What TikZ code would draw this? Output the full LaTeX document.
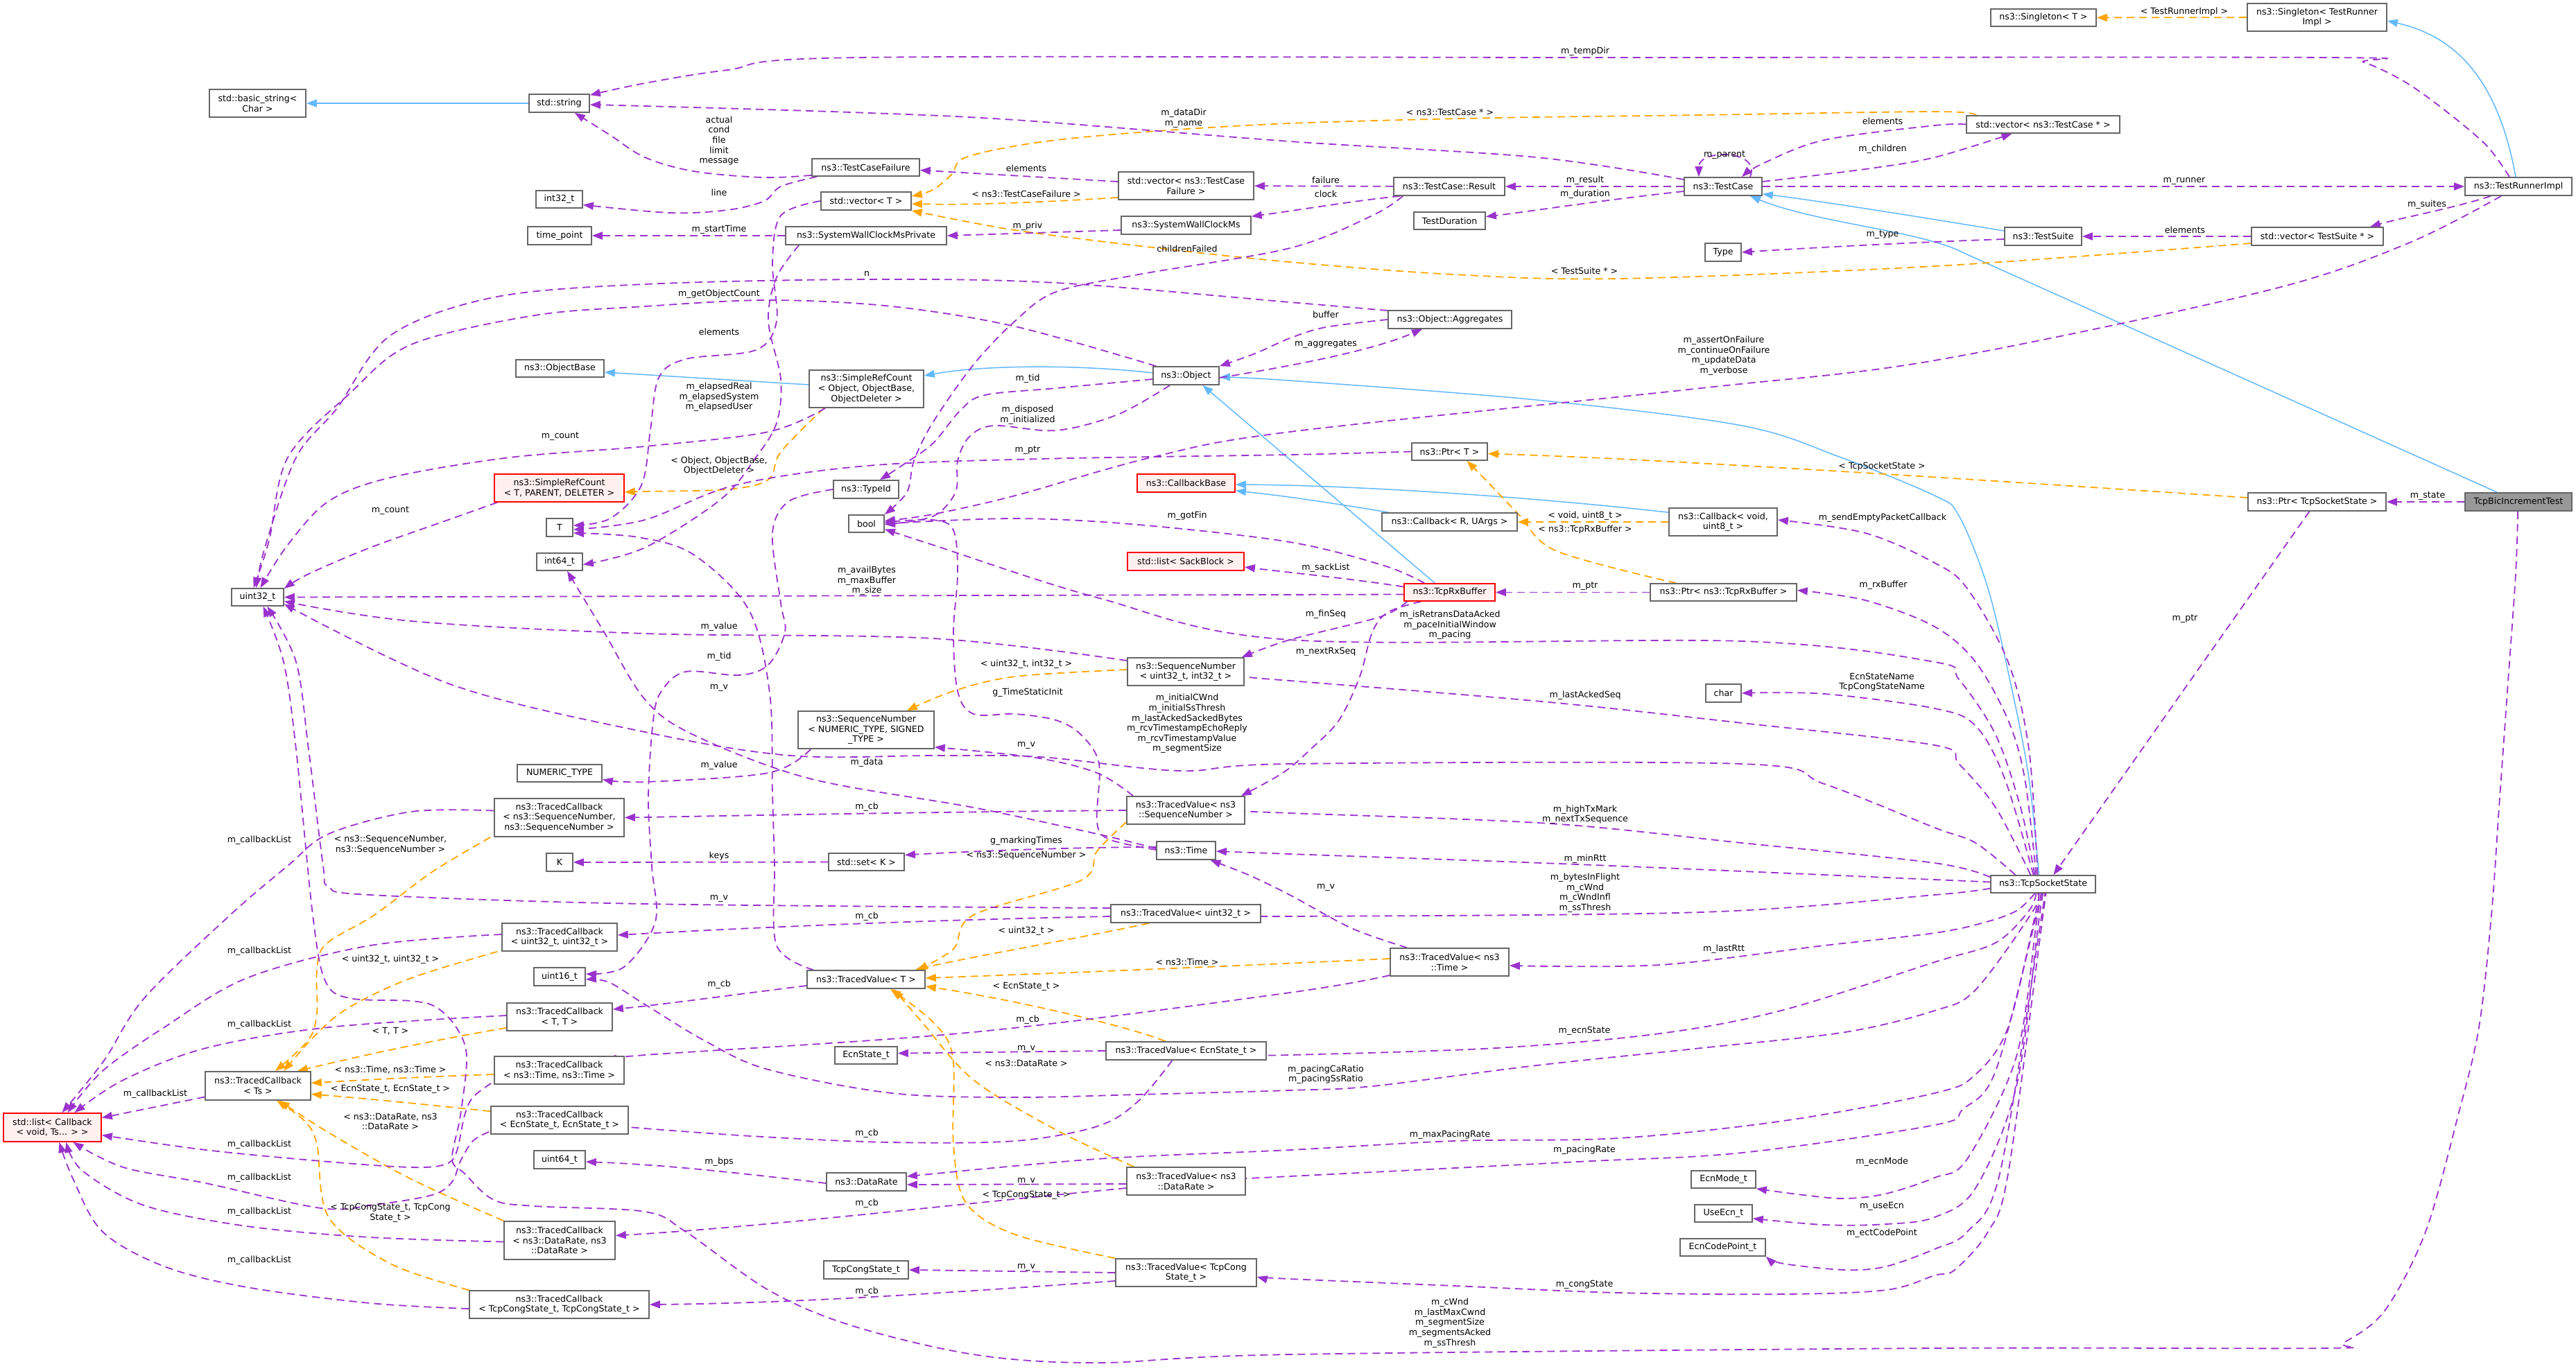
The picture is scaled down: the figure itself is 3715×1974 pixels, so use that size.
\documentclass[tikz,border=0pt]{standalone}
\usepackage{fontspec}
\setmainfont{DejaVu Sans}
\usetikzlibrary{arrows.meta}
\definecolor{purp}{HTML}{9A32CD}
\definecolor{orng}{HTML}{FFA500}
\definecolor{blu}{HTML}{63B8FF}
\definecolor{bordr}{HTML}{666666}
\definecolor{redfill}{HTML}{FFF0F0}
\definecolor{bicfill}{HTML}{999999}
\pgfdeclarelayer{bg}
\pgfsetlayers{bg,main}
\tikzset{
 nbox/.style={draw=bordr, line width=1.7pt, fill=white, inner sep=0pt, align=center, font=\fontsize{12.6}{14.6}\selectfont},
 redbox/.style={draw=red, fill=redfill},
 bicbox/.style={fill=bicfill},
 lbl/.style={inner sep=0pt, align=center, font=\fontsize{12.6}{14.6}\selectfont},
 ulink/.style={draw=purp, line width=1.8pt, dash pattern=on 11pt off 7pt, -{Triangle[length=15pt,width=11pt]}},
 tlink/.style={draw=orng, line width=1.8pt, dash pattern=on 11pt off 7pt, -{Triangle[length=15pt,width=11pt]}},
 ilink/.style={draw=blu, line width=1.5pt, -{Triangle[length=15pt,width=11pt]}},
}
\newcommand\nbx[7][]{\node[nbox,#1,minimum width={#4-#3},minimum height={#6-#5}] (#2) at ({(#3+#4)/2},{(#5+#6)/2}) {#7};}
\newcommand\smp[2]{\draw[#1] plot[smooth,tension=0.55] coordinates {#2};}
\begin{document}
\begin{tikzpicture}[x=1pt,y=-1pt]
\useasboundingbox (0,0) rectangle (3715,1974);
\begin{pgfonlayer}{bg}
\fill[white] (0,0) rectangle (3715,1974);
\end{pgfonlayer}
% ---------------- nodes
\nbx{basic}{302}{441}{129}{169}{std::basic\_string<\\Char >}
\nbx{string}{763}{850}{136}{162}{std::string}
\nbx{int32}{773}{840}{275}{300}{int32\_t}
\nbx{tpoint}{761}{853}{327}{353}{time\_point}
\nbx{objbase}{744}{871}{519}{544}{ns3::ObjectBase}
\nbx[redbox]{srcT}{713}{900}{684}{724}{ns3::SimpleRefCount\\< T, PARENT, DELETER >}
\nbx{T}{788}{826}{748}{774}{T}
\nbx{int64}{774}{840}{798}{823}{int64\_t}
\nbx{uint32}{334}{409}{849}{874}{uint32\_t}
\nbx{numtype}{746}{868}{1103}{1128}{NUMERIC\_TYPE}
\nbx{tcbseq}{713}{900}{1152}{1207}{ns3::TracedCallback\\< ns3::SequenceNumber,\\ns3::SequenceNumber >}
\nbx{K}{788}{826}{1231}{1257}{K}
\nbx{tcbu32}{724}{890}{1332}{1372}{ns3::TracedCallback\\< uint32\_t, uint32\_t >}
\nbx{uint16}{770}{844}{1396}{1422}{uint16\_t}
\nbx{tcbTT}{731}{883}{1447}{1487}{ns3::TracedCallback\\< T, T >}
\nbx{tcbTs}{296}{448}{1546}{1587}{ns3::TracedCallback\\< Ts >}
\nbx[redbox]{cblist}{5}{146}{1606}{1647}{std::list< Callback\\< void, Ts... > >}
\nbx{tcbtime}{713}{900}{1524}{1564}{ns3::TracedCallback\\< ns3::Time, ns3::Time >}
\nbx{tcbecn}{708}{906}{1596}{1636}{ns3::TracedCallback\\< EcnState\_t, EcnState\_t >}
\nbx{uint64}{770}{844}{1660}{1686}{uint64\_t}
\nbx{tcbdr}{727}{887}{1762}{1817}{ns3::TracedCallback\\< ns3::DataRate, ns3\\::DataRate >}
\nbx{tcbcong}{677}{936}{1862}{1902}{ns3::TracedCallback\\< TcpCongState\_t, TcpCongState\_t >}
\nbx{tcf}{1171}{1326}{229}{254}{ns3::TestCaseFailure}
\nbx{vecT}{1184}{1314}{277}{303}{std::vector< T >}
\nbx{swcmp}{1133}{1365}{327}{353}{ns3::SystemWallClockMsPrivate}
\nbx{src}{1167}{1332}{534}{588}{ns3::SimpleRefCount\\< Object, ObjectBase,\\ObjectDeleter >}
\nbx{typeid}{1202}{1296}{693}{719}{ns3::TypeId}
\nbx{bool}{1224}{1275}{743}{768}{bool}
\nbx{seqNS}{1151}{1347}{1026}{1080}{ns3::SequenceNumber\\< NUMERIC\_TYPE, SIGNED\\\_TYPE >}
\nbx{setK}{1195}{1304}{1231}{1256}{std::set< K >}
\nbx{tvT}{1164}{1334}{1400}{1426}{ns3::TracedValue< T >}
\nbx{ecnstate}{1204}{1294}{1510}{1535}{EcnState\_t}
\nbx{datarate}{1192}{1307}{1692}{1718}{ns3::DataRate}
\nbx{tcpcong}{1188}{1310}{1819}{1845}{TcpCongState\_t}
\nbx{vectcf}{1613}{1808}{248}{288}{std::vector< ns3::TestCase\\Failure >}
\nbx{swcm}{1617}{1804}{312}{338}{ns3::SystemWallClockMs}
\nbx{object}{1663}{1758}{529}{555}{ns3::Object}
\nbx[redbox]{cbbase}{1640}{1781}{684}{710}{ns3::CallbackBase}
\nbx[redbox]{sack}{1626}{1794}{797}{823}{std::list< SackBlock >}
\nbx{seq32}{1626}{1794}{949}{989}{ns3::SequenceNumber\\< uint32\_t, int32\_t >}
\nbx{tvseq}{1625}{1795}{1149}{1189}{ns3::TracedValue< ns3\\::SequenceNumber >}
\nbx{time}{1668}{1753}{1214}{1240}{ns3::Time}
\nbx{tvu32}{1602}{1818}{1305}{1331}{ns3::TracedValue< uint32\_t >}
\nbx{tvecn}{1595}{1826}{1503}{1529}{ns3::TracedValue< EcnState\_t >}
\nbx{tvdr}{1625}{1796}{1684}{1724}{ns3::TracedValue< ns3\\::DataRate >}
\nbx{tvcong}{1609}{1812}{1816}{1856}{ns3::TracedValue< TcpCong\\State\_t >}
\nbx{result}{2010}{2170}{256}{282}{ns3::TestCase::Result}
\nbx{duration}{2039}{2142}{306}{331}{TestDuration}
\nbx{aggr}{2002}{2180}{448}{474}{ns3::Object::Aggregates}
\nbx{ptrT}{2036}{2145}{639}{664}{ns3::Ptr< T >}
\nbx{cbR}{1993}{2188}{740}{766}{ns3::Callback< R, UArgs >}
\nbx[redbox]{rxbuf}{2025}{2156}{842}{867}{ns3::TcpRxBuffer}
\nbx{tvtime}{2005}{2176}{1368}{1408}{ns3::TracedValue< ns3\\::Time >}
\nbx{testcase}{2429}{2541}{256}{282}{ns3::TestCase}
\nbx{type}{2459}{2511}{351}{377}{Type}
\nbx{cbvoid}{2407}{2563}{733}{773}{ns3::Callback< void,\\uint8\_t >}
\nbx{ptrrx}{2380}{2591}{842}{867}{ns3::Ptr< ns3::TcpRxBuffer >}
\nbx{char}{2460}{2511}{987}{1013}{char}
\nbx{ecnmode}{2439}{2532}{1689}{1714}{EcnMode\_t}
\nbx{useecn}{2444}{2527}{1738}{1763}{UseEcn\_t}
\nbx{ecncp}{2423}{2546}{1787}{1812}{EcnCodePoint\_t}
\nbx{singT}{2871}{3023}{13}{38}{ns3::Singleton< T >}
\nbx{vectc}{2836}{3057}{167}{192}{std::vector< ns3::TestCase * >}
\nbx{suite}{2891}{3002}{328}{354}{ns3::TestSuite}
\nbx{sock}{2871}{3022}{1263}{1288}{ns3::TcpSocketState}
\nbx{singTR}{3241}{3442}{5}{45}{ns3::Singleton< TestRunner\\Impl >}
\nbx{vects}{3247}{3437}{328}{354}{std::vector< TestSuite * >}
\nbx{ptrsock}{3242}{3441}{711}{737}{ns3::Ptr< TcpSocketState >}
\nbx{runner}{3555}{3709}{256}{282}{ns3::TestRunnerImpl}
\nbx[bicbox]{bic}{3555}{3709}{711}{737}{TcpBicIncrementTest}
% ---------------- edges
\begin{pgfonlayer}{bg}
% inheritance
\draw[ilink] (string) -- (basic);
\draw[ilink] ([yshift=6pt]src.west) -- ([yshift=-5.5pt]objbase.east);
\draw[ilink] ([yshift=4pt]object.west) .. controls (1560,526) and (1420,526) .. ([yshift=19pt]src.east);
\draw[ilink] ([xshift=45pt]rxbuf.north west) -- ([xshift=24pt]object.south);
\smp{ilink}{([xshift=-6pt]sock.north) (2926,1123) (2902,997) (2867,849) (2825,744) (2790,715) (2655,660) (2512,614) (2216,577) (1860,549) ([yshift=-2pt]object.east)}
\draw[ilink] ([xshift=10pt]cbR.north west) .. controls (1900,722) and (1840,714) .. ([yshift=-11pt]cbbase.east);
\draw[ilink] ([yshift=-7pt]cbvoid.north west) .. controls (2200,716) and (1950,700) .. ([yshift=-2pt]cbbase.east);
\draw[ilink] ([yshift=8pt]suite.west) .. controls (2780,315) and (2640,292) .. ([yshift=3pt]testcase.south east);
\draw[ilink] ([xshift=-31pt]bic.north) -- (2830,364) .. controls (2770,333) and (2620,322) .. ([xshift=39pt]testcase.south);
\draw[ilink] ([xshift=-4pt]runner.north) .. controls (3600,100) and (3530,50) .. ([yshift=-5pt]singTR.east);
% templates
\draw[tlink] (singTR) -- (singT);
\draw[tlink] ([yshift=-17pt]vectcf.west) .. controls (1500,292) and (1400,296) .. ([yshift=-4pt]vecT.east);
\smp{tlink}{([xshift=15pt]vectc.north west) (2790,161) (2453,166) (2157,170) (1860,178) (1642,191) (1493,206) (1393,227) (1372,252) (1345,274) ([yshift=7pt]vecT.east)}
\smp{tlink}{([yshift=-10pt]vects.west) (2790,384) (2334,402) (2097,396) (1860,378) (1671,358) (1464,332) (vecT.south east)}
\smp{tlink}{([xshift=22pt]src.south west) (1126,652) (1108,692) (1049,706) (930,709) ([yshift=-6pt]srcT.east)}
\draw[tlink] (cbvoid) -- (cbR);
\smp{tlink}{([xshift=38pt]ptrrx.north west) (2245,795) (2192,744) (2150,700) ([xshift=25pt]ptrT.south)}
\draw[tlink] ([yshift=6pt]ptrsock.west) .. controls (2900,695) and (2400,662) .. ([yshift=-3pt]ptrT.east);
\smp{tlink}{([yshift=3pt]seq32.west) (1464,976) (1375,997) ([xshift=-40pt]seqNS.north east)}
\smp{tlink}{([yshift=-17pt]tvseq.west) (1582,1228) (1559,1270) (1404,1320) (1375,1369) ([xshift=-12pt]tvT.north east)}
\draw[tlink] ([xshift=-53pt]tvu32.south) .. controls (1550,1355) and (1400,1380) .. ([xshift=-15pt]tvT.north east);
\draw[tlink] ([yshift=5pt]tvtime.west) .. controls (1800,1393) and (1500,1405) .. ([yshift=2pt]tvT.east);
\draw[tlink] ([xshift=-30pt]tvecn.north) .. controls (1620,1478) and (1450,1440) .. ([yshift=-10pt]tvT.east);
\smp{tlink}{([xshift=11pt]tvdr.north west) (1523,1630) (1404,1558) (1330,1475) ([xshift=40pt]tvT.south)}
\smp{tlink}{(tvcong.north west) (1464,1781) (1393,1735) (1375,1651) (1374,1524) (1345,1474) ([xshift=35pt]tvT.south)}
\smp{tlink}{([xshift=-5pt]tcbseq.south west) (623,1258) (540,1320) (470,1362) (457,1400) (457,1461) (445,1500) ([xshift=25pt]tcbTs.north)}
\smp{tlink}{([xshift=-6pt]tcbu32.south west) (593,1411) (504,1453) (457,1491) ([xshift=37pt]tcbTs.north)}
\draw[tlink] ([yshift=5pt]tcbTT.south west) .. controls (600,1505) and (500,1528) .. ([xshift=-20pt]tcbTs.north east);
\draw[tlink] ([yshift=-6pt]tcbtime.west) .. controls (620,1553) and (520,1558) .. ([yshift=4pt]tcbTs.east);
\draw[tlink] ([yshift=-8pt]tcbecn.north west) .. controls (600,1592) and (520,1584) .. ([yshift=-12pt]tcbTs.east);
\smp{tlink}{(tcbdr.north west) (593,1701) (474,1634) ([xshift=31pt]tcbTs.south)}
\smp{tlink}{(tcbcong.north west) (563,1823) (474,1756) (457,1651) (439,1617) ([xshift=27pt]tcbTs.south)}
% usage
\smp{ulink}{([xshift=-13pt]runner.north) (3586,210) (3527,160) (3468,118) (3409,90) (3356,83) (2300,83) (1238,83) (1049,101) (930,120) ([yshift=-2pt]string.north east)}
\smp{ulink}{([yshift=10pt]testcase.west) (2216,227) (1860,204) (1464,173) (1227,162) (930,153) ([yshift=-2pt]string.east)}
\smp{ulink}{([yshift=2pt]tcf.south west) (1100,256) (1000,247) (930,227) (880,195) ([xshift=-22pt]string.south east)}
\smp{ulink}{([xshift=8pt]tcf.south west) (1126,269) (1102,290) (1049,303) (966,307) ([yshift=-8pt]int32.east)}
\draw[ulink] (swcmp) -- (tpoint);
\draw[ulink] ([yshift=6pt]vectcf.west) -- ([yshift=-4pt]tcf.east);
\draw[ulink] (result) -- (vectcf);
\draw[ulink] ([xshift=10pt]result.south west) .. controls (1950,290) and (1880,302) .. ([yshift=-1pt]swcm.north east);
\draw[ulink] ([yshift=-7pt]swcm.west) -- (swcmp.east);
\smp{ulink}{([xshift=14pt]result.south west) (1979,311) (1860,358) (1642,396) (1523,421) (1464,463) (1404,526) (1345,610) (1318,665) (1308,710) (bool.north east)}
\smp{ulink}{([yshift=-5pt]object.west) (1523,560) (1420,570) (1385,592) (1345,640) (1300,672) ([xshift=20pt]typeid.north)}
\smp{ulink}{([xshift=25pt]object.south west) (1612,598) (1523,621) (1434,614) (1398,630) (1381,665) (1378,710) (1345,745) ([yshift=-1pt]bool.east)}
\smp{ulink}{([xshift=-25pt]runner.south) (3468,353) (3262,421) (2790,520) (2453,560) (1860,623) (1660,660) (1464,715) (1345,742) ([yshift=4pt]bool.east)}
\smp{ulink}{([xshift=30pt]rxbuf.north west) (1996,816) (1860,782) (1642,757) (1464,748) (bool.east)}
\smp{ulink}{([xshift=-12pt]sock.north) (2914,1165) (2878,1060) (2825,980) (2790,955) (2512,925) (1860,923) (1582,862) (1345,786) ([yshift=-8pt]bool.east)}
\smp{ulink}{([xshift=-8pt]sock.north) (2926,1081) (2896,955) (2837,849) (2790,812) (2690,769) ([yshift=3pt]cbvoid.east)}
\smp{ulink}{([xshift=-10pt]sock.north) (2920,1123) (2896,1039) (2849,955) (2790,904) (2690,866) ([yshift=3pt]ptrrx.east)}
\smp{ulink}{([xshift=-14pt]sock.north) (2891,1123) (2849,1047) (2790,1022) (2631,1001) (char.east)}
\smp{ulink}{([xshift=-18pt]sock.north) (2878,1165) (2825,1102) (2790,1075) (2512,1043) (2234,1013) (1860,982) ([yshift=-9pt]seq32.east)}
\smp{ulink}{([xshift=-40pt]sock.north) (2849,1216) (2790,1194) (2631,1131) (2512,1102) (1860,1102) (1701,1112) (1500,1092) (1350,1090) (1140,1090) (930,1056) (652,988) ([yshift=-10pt]uint32.east)}
\smp{ulink}{([yshift=10pt]sock.west) (2790,1245) (2512,1216) (2234,1188) (1860,1173) ([yshift=-2pt]tvseq.east)}
\smp{ulink}{([yshift=3pt]sock.west) (2790,1269) (2275,1247) (1860,1232) ([yshift=-1pt]time.east)}
\smp{ulink}{([yshift=-6pt]sock.west) (2790,1291) (2453,1316) (1860,1322) ([yshift=-2pt]tvu32.east)}
\smp{ulink}{([xshift=-12pt]sock.south) (2908,1314) (2861,1331) (2790,1346) (2631,1364) (2394,1392) ([yshift=-5pt]tvtime.east)}
\smp{ulink}{([xshift=-10pt]sock.south) (2926,1314) (2878,1360) (2790,1388) (2572,1457) (2394,1491) (2157,1512) (1860,1522) ([yshift=-5pt]tvecn.east)}
\smp{ulink}{([xshift=-8pt]sock.south) (2932,1314) (2849,1428) (2790,1458) (2661,1489) (2453,1512) (2216,1537) (1979,1567) (1860,1573) (1642,1579) (1464,1583) (1286,1577) (1108,1543) (1019,1503) (930,1449) (878,1417) ([yshift=-4pt]uint16.east)}
\smp{ulink}{([xshift=-6pt]sock.south) (2935,1320) (2896,1482) (2849,1550) (2790,1577) (2572,1617) (2334,1642) (2097,1646) (1860,1659) (1582,1672) ([yshift=-6pt]datarate.north east)}
\smp{ulink}{([xshift=-4pt]sock.south) (2937,1320) (2878,1545) (2831,1600) (2790,1623) (2512,1663) (2275,1676) (1860,1697) ([yshift=4pt]tvdr.east)}
\smp{ulink}{([xshift=-2pt]sock.south) (2937,1330) (2908,1524) (2837,1672) (2790,1699) (2720,1722) (2661,1729) (2601,1724) (ecnmode.south east)}
\smp{ulink}{(sock.south) (2940,1330) (2908,1567) (2849,1714) (2790,1756) (2720,1766) (2631,1767) ([yshift=6pt]useecn.south east)}
\smp{ulink}{([xshift=2pt]sock.south) (2943,1330) (2884,1693) (2837,1777) (2790,1802) (2720,1827) (2661,1832) (2572,1823) (ecncp.south east)}
\smp{ulink}{([xshift=4pt]sock.south) (2945,1330) (2896,1693) (2867,1777) (2819,1832) (2790,1840) (2720,1861) (2572,1867) (2334,1865) (2097,1855) (1860,1845) ([yshift=-6pt]tvcong.east)}
\smp{ulink}{([xshift=-1pt]bic.south) (3628,828) (3616,997) (3604,1165) (3593,1320) (3575,1482) (3545,1609) (3498,1777) (3439,1891) (3380,1937) (3350,1945) (2790,1945) (1860,1954) (1582,1966) (1404,1954) (1227,1912) (1108,1861) (989,1777) (930,1748) (771,1740) (712,1731) (670,1693) (652,1672) (664,1609) (673,1524) (658,1482) (629,1453) (593,1444) (504,1440) (469,1415) (451,1320) (427,1081) (409,955) ([xshift=8pt]uint32.south)}
\smp{ulink}{([yshift=8pt]tvu32.west) (930,1304) (534,1291) (474,1279) (466,1249) (445,1081) (427,955) ([xshift=14pt]uint32.south)}
\smp{ulink}{([xshift=5pt]object.north west) (1464,471) (1286,442) (1108,433) (930,442) (771,455) (593,497) (504,568) (415,660) (388,780) ([xshift=-6pt]uint32.north)}
\smp{ulink}{([yshift=13pt]aggr.west) (1860,436) (1523,408) (1256,403) (930,410) (712,429) (563,484) (486,589) (427,660) (382,790) ([xshift=-2pt]uint32.north)}
\smp{ulink}{([xshift=24pt]src.south west) (1108,623) (930,644) (735,660) (563,689) (474,723) (415,786) ([xshift=4pt]uint32.north)}
\smp{ulink}{([xshift=5pt]srcT.south west) (652,748) (534,790) (445,828) ([yshift=-1pt]uint32.north east)}
\draw[ulink] ([yshift=-3pt]rxbuf.west) -- (uint32.east);
\smp{ulink}{([yshift=16pt]seq32.west) (1345,921) (930,914) (593,896) ([yshift=-6pt]uint32.east)}
\smp{ulink}{(vecT.west) (1126,311) (1114,379) (1120,463) (1090,505) (989,518) (950,545) (938,620) (925,700) (880,748) ([yshift=3pt]T.east)}
\smp{ulink}{([xshift=20pt]swcmp.south west) (1120,400) (1108,463) (1126,547) (1120,610) (1090,660) (1040,720) (930,790) ([yshift=-4pt]int64.east)}
\smp{ulink}{(ptrT.west) (1860,656) (1500,662) (1250,672) (1060,700) (930,750) ([yshift=-3pt]T.east)}
\smp{ulink}{([xshift=10pt]tvT.north west) (1120,1364) (1117,1249) (1114,1144) (1110,1000) (1080,880) (1000,800) (920,775) ([yshift=-8pt]T.east)}
\smp{ulink}{(typeid.west) (1138,723) (1114,769) (1126,870) (1132,912) (1108,959) (1066,974) (989,969) (954,997) (942,1039) (935,1150) (940,1250) (945,1330) (900,1395) ([yshift=4pt]uint16.east)}
\smp{ulink}{([yshift=3pt]time.west) (1582,1203) (1404,1165) (1167,1123) (1000,1060) (930,1009) (870,910) ([xshift=11pt]int64.south)}
\smp{ulink}{([yshift=1pt]time.west) (1600,1211) (1582,1186) (1585,1102) (1559,1060) (1523,1039) (1464,1030) (1404,1030) (1381,997) (1375,912) (1381,828) (1375,765) (1345,750) ([yshift=2pt]bool.east)}
\draw[ulink] ([yshift=5pt]time.west) .. controls (1550,1222) and (1400,1228) .. ([yshift=10pt]setK.east);
\draw[ulink] (setK) -- (K);
\smp{ulink}{([xshift=10pt]tvseq.north west) (1582,1115) (1493,1093) ([yshift=3pt]seqNS.south east)}
\draw[ulink] (tvseq.west) .. controls (1300,1172) and (1100,1176) .. (tcbseq.east);
\smp{ulink}{([xshift=19pt]seqNS.south west) (1108,1115) (930,1128) ([yshift=-9pt]numtype.east)}
\draw[ulink] ([yshift=8pt]rxbuf.west) .. controls (1950,835) and (1850,825) .. ([yshift=-8pt]sack.east);
\smp{ulink}{([xshift=5pt]rxbuf.south west) (1990,890) (1860,923) ([xshift=-4pt]seq32.north east)}
\smp{ulink}{([xshift=25pt]rxbuf.south west) (2002,883) (1979,912) (1961,976) (1931,1039) (1890,1081) (1850,1115) ([xshift=-6pt]tvseq.north east)}
\draw[ulink] (ptrrx) -- (rxbuf);
\smp{ulink}{(aggr.west) (1912,472) (1860,488) (1810,510) (object.north east)}
\draw[ulink] ([yshift=-3pt]object.east) .. controls (1880,525) and (1980,505) .. ([xshift=-40pt]aggr.south);
\draw[ulink] ([xshift=39pt]testcase.north) .. controls (2540,215) and (2450,215) .. ([xshift=-35pt]testcase.north);
\smp{ulink}{(vectc.west) (2790,181) (2631,202) (2542,236) ([xshift=27pt]testcase.north)}
\smp{ulink}{([yshift=7pt]testcase.east) (2690,244) (2790,227) ([xshift=-45pt]vectc.south)}
\draw[ulink] (testcase) -- (runner);
\draw[ulink] (testcase) -- (result);
\draw[ulink] ([yshift=-7pt]testcase.west) .. controls (2300,290) and (2200,306) .. ([yshift=6pt]duration.east);
\draw[ulink] ([yshift=-4pt]suite.west) .. controls (2750,350) and (2600,358) .. (type.east);
\draw[ulink] ([xshift=-40pt]runner.south) .. controls (3540,300) and (3460,315) .. ([xshift=76pt]vects.north);
\draw[ulink] (vects) -- (suite);
\draw[ulink] (bic) -- (ptrsock);
\draw[ulink] ([xshift=-11pt]ptrsock.south) -- ([xshift=15pt]sock.north);
\draw[ulink] ([yshift=-4pt]tvu32.west) .. controls (1300,1328) and (1050,1340) .. ([yshift=3pt]tcbu32.east);
\draw[ulink] ([yshift=-9pt]tvT.west) .. controls (1050,1436) and (950,1450) .. ([yshift=11pt]tcbTT.east);
\smp{ulink}{([yshift=-19pt]tvtime.west) (1860,1432) (1404,1489) (930,1522) ([yshift=17pt]tcbtime.east)}
\smp{ulink}{([xshift=25pt]tvtime.north west) (1949,1339) (1860,1291) (1800,1262) ([xshift=35pt]time.south)}
\draw[ulink] (tvecn.west) -- ([yshift=3pt]ecnstate.east);
\smp{ulink}{([xshift=-20pt]tvecn.south) (1640,1590) (1582,1625) (1464,1646) (1286,1648) (1100,1640) (930,1628) ([yshift=-9pt]tcbecn.east)}
\draw[ulink] ([yshift=-4pt]tvdr.west) -- ([yshift=-4pt]datarate.east);
\draw[ulink] ([yshift=-10pt]tvdr.west) .. controls (1350,1740) and (1100,1770) .. ([yshift=7pt]tcbdr.east);
\draw[ulink] (tvcong.west) -- (tcpcong.east);
\draw[ulink] ([yshift=-12pt]tvcong.west) .. controls (1350,1866) and (1150,1880) .. (tcbcong.east);
\draw[ulink] ([yshift=-2pt]datarate.west) .. controls (1050,1690) and (950,1680) .. ([yshift=-3pt]uint64.east);
\draw[ulink] ([yshift=-16pt]tcbTs.west) -- ([yshift=14pt]cblist.east);
\smp{ulink}{([yshift=10pt]tcbseq.west) (593,1171) (474,1203) (415,1249) (332,1320) (208,1440) (150,1530) ([xshift=14pt]cblist.north)}
\smp{ulink}{([yshift=4pt]tcbu32.west) (534,1364) (356,1411) (237,1482) (148,1545) ([xshift=22pt]cblist.north)}
\smp{ulink}{([yshift=2pt]tcbTT.west) (474,1482) (297,1512) (178,1558) ([xshift=32pt]cblist.north)}
\smp{ulink}{([xshift=-4pt,yshift=2pt]tcbtime.south west) (682,1583) (670,1609) (658,1663) (641,1680) (593,1684) (474,1676) (297,1659) ([yshift=-11pt]cblist.east)}
\smp{ulink}{([xshift=-2pt,yshift=4pt]tcbecn.south west) (682,1646) (664,1675) (652,1705) (623,1724) (540,1738) (463,1743) (297,1707) (178,1684) ([xshift=30pt]cblist.south)}
\smp{ulink}{([yshift=-2pt]tcbdr.west) (534,1785) (356,1769) (208,1739) (119,1689) ([xshift=20pt]cblist.south)}
\smp{ulink}{([yshift=-6pt]tcbcong.west) (534,1880) (356,1857) (237,1827) (148,1777) (105,1700) ([xshift=10pt]cblist.south)}
\end{pgfonlayer}
% ---------------- labels
\node[lbl] (l01) at (2286,74) {m\_tempDir};
\node[lbl] (l02) at (3150,17) {< TestRunnerImpl >};
\node[lbl] (l03) at (1037,203) {actual\\cond\\file\\limit\\message};
\node[lbl] (l04) at (1707,170.5) {m\_dataDir\\m\_name};
\node[lbl] (l05) at (2091,162) {< ns3::TestCase * >};
\node[lbl] (l06) at (2715,175) {elements};
\node[lbl] (l07) at (2715,215) {m\_children};
\node[lbl] (l08) at (2487,224) {m\_parent};
\node[lbl] (l09) at (3150,261) {m\_runner};
\node[lbl] (l10) at (2286,260) {m\_result};
\node[lbl] (l11) at (2286,280) {m\_duration};
\node[lbl] (l12) at (1912,260) {failure};
\node[lbl] (l13) at (1912,280) {clock};
\node[lbl] (l14) at (1480,243) {elements};
\node[lbl] (l15) at (1037,278) {line};
\node[lbl] (l16) at (1480,280) {< ns3::TestCaseFailure >};
\node[lbl] (l17) at (1037,331) {m\_startTime};
\node[lbl] (l18) at (1482,326) {m\_priv};
\node[lbl] (l19) at (3500,295) {m\_suites};
\node[lbl] (l20) at (3151,332) {elements};
\node[lbl] (l21) at (2715,339) {m\_type};
\node[lbl] (l22) at (1712,359) {childrenFailed};
\node[lbl] (l23) at (2285,391) {< TestSuite * >};
\node[lbl] (l24) at (1250,395) {n};
\node[lbl] (l25) at (1037,424) {m\_getObjectCount};
\node[lbl] (l26) at (1912,454) {buffer};
\node[lbl] (l27) at (1037,479) {elements};
\node[lbl] (l28) at (1912,497) {m\_aggregates};
\node[lbl] (l29) at (2486,513) {m\_assertOnFailure\\m\_continueOnFailure\\m\_updateData\\m\_verbose};
\node[lbl] (l30) at (1482,546) {m\_tid};
\node[lbl] (l31) at (1037,573) {m\_elapsedReal\\m\_elapsedSystem\\m\_elapsedUser};
\node[lbl] (l32) at (1482,598.5) {m\_disposed\\m\_initialized};
\node[lbl] (l33) at (808,630) {m\_count};
\node[lbl] (l34) at (1482,650) {m\_ptr};
\node[lbl] (l35) at (1037,672) {< Object, ObjectBase,\\ObjectDeleter >};
\node[lbl] (l36) at (2714,673) {< TcpSocketState >};
\node[lbl] (l37) at (3501,716) {m\_state};
\node[lbl] (l38) at (563,737) {m\_count};
\node[lbl] (l39) at (1712,744) {m\_gotFin};
\node[lbl] (l40) at (2286,744) {< void, uint8\_t >};
\node[lbl] (l41) at (2715,747) {m\_sendEmptyPacketCallback};
\node[lbl] (l42) at (2286,764) {< ns3::TcpRxBuffer >};
\node[lbl] (l43) at (1912,819) {m\_sackList};
\node[lbl] (l44) at (1250,838) {m\_availBytes\\m\_maxBuffer\\m\_size};
\node[lbl] (l45) at (2716,844) {m\_rxBuffer};
\node[lbl] (l46) at (2286,846) {m\_ptr};
\node[lbl] (l47) at (2091,902) {m\_isRetransDataAcked\\m\_paceInitialWindow\\m\_pacing};
\node[lbl] (l48) at (1912,886) {m\_finSeq};
\node[lbl] (l49) at (3151,893) {m\_ptr};
\node[lbl] (l50) at (1037,904) {m\_value};
\node[lbl] (l51) at (1912,940) {m\_nextRxSeq};
\node[lbl] (l52) at (1037,947) {m\_tid};
\node[lbl] (l53) at (1480,958) {< uint32\_t, int32\_t >};
\node[lbl] (l54) at (2714,984) {EcnStateName\\TcpCongStateName};
\node[lbl] (l55) at (1037,992) {m\_v};
\node[lbl] (l56) at (1482,999) {g\_TimeStaticInit};
\node[lbl] (l57) at (2286,1003) {m\_lastAckedSeq};
\node[lbl] (l58) at (1712,1044) {m\_initialCWnd\\m\_initialSsThresh\\m\_lastAckedSackedBytes\\m\_rcvTimestampEchoReply\\m\_rcvTimestampValue\\m\_segmentSize};
\node[lbl] (l59) at (1480,1075) {m\_v};
\node[lbl] (l60) at (1250,1100) {m\_data};
\node[lbl] (l61) at (1037,1104) {m\_value};
\node[lbl] (l62) at (1250,1164) {m\_cb};
\node[lbl] (l63) at (2286,1175) {m\_highTxMark\\m\_nextTxSequence};
\node[lbl] (l64) at (374,1212) {m\_callbackList};
\node[lbl] (l65) at (563,1218.5) {< ns3::SequenceNumber,\\ns3::SequenceNumber >};
\node[lbl] (l66) at (1480,1213) {g\_markingTimes};
\node[lbl] (l67) at (1480,1234) {< ns3::SequenceNumber >};
\node[lbl] (l68) at (1037,1235) {keys};
\node[lbl] (l69) at (2286,1239) {m\_minRtt};
\node[lbl] (l70) at (2286,1288) {m\_bytesInFlight\\m\_cWnd\\m\_cWndInfl\\m\_ssThresh};
\node[lbl] (l71) at (1912,1280) {m\_v};
\node[lbl] (l72) at (1037,1296) {m\_v};
\node[lbl] (l73) at (1250,1322) {m\_cb};
\node[lbl] (l74) at (1480,1343) {< uint32\_t >};
\node[lbl] (l75) at (2486,1369) {m\_lastRtt};
\node[lbl] (l76) at (374,1372) {m\_callbackList};
\node[lbl] (l77) at (563,1384) {< uint32\_t, uint32\_t >};
\node[lbl] (l78) at (1712,1388) {< ns3::Time >};
\node[lbl] (l79) at (1037,1420) {m\_cb};
\node[lbl] (l80) at (1480,1423) {< EcnState\_t >};
\node[lbl] (l81) at (1482,1471) {m\_cb};
\node[lbl] (l82) at (374,1478) {m\_callbackList};
\node[lbl] (l83) at (2285,1487) {m\_ecnState};
\node[lbl] (l84) at (563,1488) {< T, T >};
\node[lbl] (l85) at (1480,1513) {m\_v};
\node[lbl] (l86) at (1480,1534) {< ns3::DataRate >};
\node[lbl] (l87) at (563,1543) {< ns3::Time, ns3::Time >};
\node[lbl] (l88) at (1912,1550) {m\_pacingCaRatio\\m\_pacingSsRatio};
\node[lbl] (l89) at (563,1571) {< EcnState\_t, EcnState\_t >};
\node[lbl] (l90) at (224,1578) {m\_callbackList};
\node[lbl] (l91) at (563,1618) {< ns3::DataRate, ns3\\::DataRate >};
\node[lbl] (l92) at (1250,1635) {m\_cb};
\node[lbl] (l93) at (2091,1637) {m\_maxPacingRate};
\node[lbl] (l94) at (374,1651) {m\_callbackList};
\node[lbl] (l95) at (2285,1659) {m\_pacingRate};
\node[lbl] (l96) at (1037,1676) {m\_bps};
\node[lbl] (l97) at (2714,1676) {m\_ecnMode};
\node[lbl] (l98) at (374,1699) {m\_callbackList};
\node[lbl] (l99) at (1480,1704) {m\_v};
\node[lbl] (m01) at (1480,1724) {< TcpCongState\_t >};
\node[lbl] (m02) at (1250,1736) {m\_cb};
\node[lbl] (m03) at (2714,1740) {m\_useEcn};
\node[lbl] (m04) at (563,1749.5) {< TcpCongState\_t, TcpCong\\State\_t >};
\node[lbl] (m05) at (374,1748) {m\_callbackList};
\node[lbl] (m06) at (2714,1779) {m\_ectCodePoint};
\node[lbl] (m07) at (374,1818) {m\_callbackList};
\node[lbl] (m08) at (1480,1828) {m\_v};
\node[lbl] (m09) at (2285,1853) {m\_congState};
\node[lbl] (m10) at (1250,1863) {m\_cb};
\node[lbl] (m11) at (2091,1908.5) {m\_cWnd\\m\_lastMaxCwnd\\m\_segmentSize\\m\_segmentsAcked\\m\_ssThresh};
\end{tikzpicture}
\end{document}
